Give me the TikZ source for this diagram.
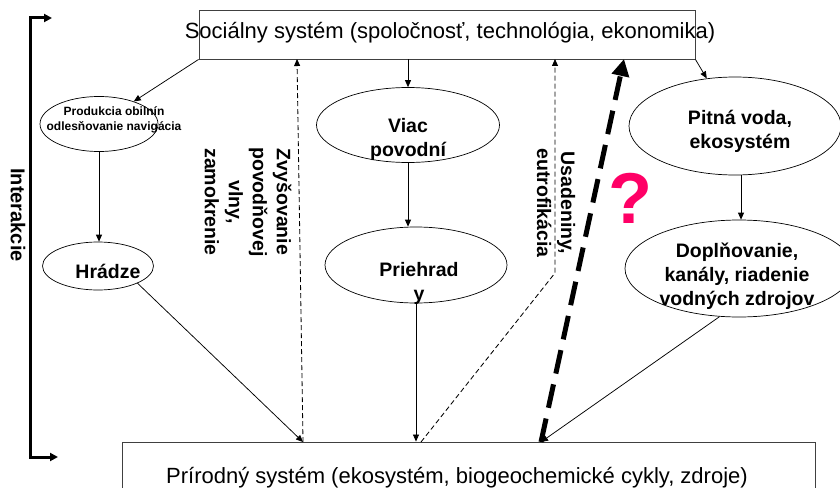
\documentclass[tikz,border=0pt]{standalone}
\usepackage{fontspec}
\setmainfont{Liberation Sans}
\usetikzlibrary{arrows.meta,shapes.geometric}
\definecolor{qpink}{HTML}{FF0066}

\begin{document}
\begin{tikzpicture}[x=1pt,y=-1pt,
  oval/.style={draw,ellipse,line width=0.7pt,inner sep=0pt},
  sysbox/.style={draw=black!75,line width=0.9pt,inner sep=0pt},
  big/.style={font=\fontsize{22}{26}\selectfont},
  lbl/.style={font=\fontsize{19.5}{24}\selectfont\bfseries,align=center,inner sep=0pt},
  arr/.style={-{Triangle[length=7pt,width=6pt]},line width=0.75pt},
  dsh/.style={arr,dash pattern=on 5pt off 3pt}]
  \useasboundingbox (0,0) rectangle (840,487);

  \node[sysbox,minimum width=496pt,minimum height=49pt] (soc) at (447,34.5) {};
  \node[big,anchor=base] (soctxt) at (450,38.7) {Sociálny systém (spoločnosť, technológia, ekonomika)};
  \node[sysbox,minimum width=693pt,minimum height=70pt] (nat) at (468.5,477) {};
  \node[big,anchor=base] (nattxt) at (457,483) {Prírodný systém (ekosystém, biogeochemické cykly, zdroje)};

  \node[oval,minimum width=118pt,minimum height=55pt] (prod) at (99,124) {};
  \node[oval,minimum width=111pt,minimum height=48pt] (hradze) at (98,266) {};
  \node[oval,minimum width=183pt,minimum height=75pt] (viac) at (408,125) {};
  \node[oval,minimum width=182pt,minimum height=76pt] (prieh) at (416,265) {};
  \node[oval,minimum width=212pt,minimum height=98pt] (pitna) at (735,126) {};
  \node[oval,minimum width=228pt,minimum height=97pt] (dopl) at (739,268.5) {};

  \node[lbl,font=\fontsize{12}{15}\selectfont\bfseries] (prodtxt) at (114,120) {Produkcia obilnín\\odlesňovanie navigácia};
  \node[lbl] (hradzetxt) at (108,271) {Hrádze};
  \node[lbl] (viactxt) at (408,139) {Viac\\povodní};
  \node[lbl] (priehtxt) at (419,283) {Priehrad\\y};
  \node[lbl] (pitnatxt) at (740,131) {Pitná voda,\\ekosystém};
  \node[lbl] (dopltxt) at (737,276) {Doplňovanie,\\kanály, riadenie\\vodných zdrojov};

  \node[lbl,rotate=-90] (zvys) at (248,202) {Zvyšovanie\\povodňovej\\vlny,\\zamokrenie};
  \node[lbl,rotate=-90] (usad) at (556,203) {Usadeniny,\\eutrofikácia};
  \node[lbl,rotate=-90,font=\fontsize{20}{24}\selectfont\bfseries] (inter) at (18,215) {Interakcie};
  \node[text=qpink,font=\fontsize{72}{80}\selectfont\bfseries,inner sep=0pt] (otaz) at (630,198) {?};

  \coordinate (d1b) at (303,442);
  \coordinate (d1t) at (297,59);
  \coordinate (d2b) at (421,442);
  \coordinate (d2k) at (555,273);
  \coordinate (d2t) at (555,59);
  \coordinate (qb) at (541,442);
  \coordinate (qt) at (624,59);

  \draw[line width=3pt,{Triangle[length=8pt,width=8pt]}-{Triangle[length=8pt,width=8pt]}] (52,18) -- (30,18) -- (30,457) -- (58,457);

  \draw[arr] (soc.south west) -- (prod);
  \draw[arr] (viac |- soc.south) -- (viac);
  \draw[arr] (soc.south east) -- (pitna);
  \draw[arr] (prod.south) -- (prod.south |- hradze.north);
  \draw[arr] (viac.south) -- (viac.south |- prieh.north);
  \draw[arr] ([xshift=6pt]pitna.south) -- ([xshift=6pt]pitna.south |- dopl.north);
  \draw[arr] (hradze.south east) -- (d1b);
  \draw[arr] (prieh.south) -- (prieh.south |- nat.north);
  \draw[arr] (dopl.-112) -- (qb);
  \draw[dsh,line width=0.85pt] (d1b) -- (d1t);
  \draw[dsh,line width=0.85pt] (d2b) -- (d2k) -- (d2t);
  \draw[line width=5pt,dash pattern=on 24pt off 11pt,-{Triangle[length=17pt,width=17pt]}] (qb) -- (qt);
\end{tikzpicture}
\end{document}
